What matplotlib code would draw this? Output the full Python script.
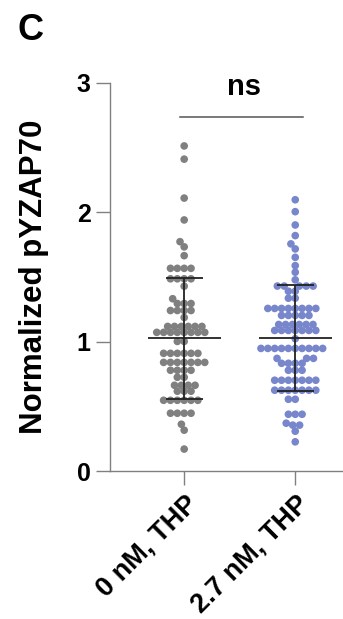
import matplotlib
matplotlib.use("Agg")
import matplotlib.pyplot as plt
import seaborn as sns
import pandas as pd

# values (one entry per dot)
groups = ["0 nM, THP", "2.7 nM, THP"]
zero_nm = ([2.513, 2.411, 2.110, 1.941, 1.773, 1.733, 1.665]
           + [1.567] * 4 + [1.486] * 4 + [1.429, 1.332] + [1.295] * 3
           + [1.241] * 4 + [1.187] + [1.118] * 6 + [1.072] * 8 + [1.002] * 2
           + [0.910] * 6 + [0.840] * 7 + [0.779] * 4 + [0.725] * 2
           + [0.663] * 4 + [0.617] * 3 + [0.547] * 6 + [0.447] * 4
           + [0.362, 0.316, 0.170])
thp_27 = ([2.097, 2.005, 1.902, 1.820, 1.756, 1.717, 1.652, 1.588, 1.537, 1.478]
          + [1.430] * 5 + [1.390] * 2 + [1.336] * 2 + [1.257] * 8
          + [1.203] * 5 + [1.133] * 6 + [1.087] * 7 + [1.023]
          + [0.948] * 10 + [0.871] * 3 + [0.833] * 4 + [0.779] * 3
          + [0.702] * 7 + [0.625] * 7 + [0.555] * 2 + [0.439] * 3
          + [0.370, 0.355, 0.355, 0.308, 0.226])
means = [1.025, 1.03]
sds = [0.465, 0.41]
colors = ["#808080", "#7886CC"]

df = pd.DataFrame({
    "group": [groups[0]] * len(zero_nm) + [groups[1]] * len(thp_27),
    "value": zero_nm + thp_27,
})

plt.rcParams["font.family"] = ["Liberation Sans", "DejaVu Sans"]
plt.rcParams["font.weight"] = "bold"

fig = plt.figure(figsize=(3.43, 6.19), dpi=100)
ax = fig.add_axes([0.321, 0.239, 0.679, 0.627])

# swarm laid out with slightly smaller dots, then drawn bigger (dots touch like Prism)
sns.swarmplot(data=df, x="group", y="value", hue="group", order=groups,
              palette=colors, size=4.7, linewidth=0, legend=False, ax=ax)
ax.set_xlim(-0.667, 1.43)
ax.set_ylim(0, 3)
fig.canvas.draw()
for coll in ax.collections:
    if "draw" in coll.__dict__:
        del coll.draw
    coll.set_sizes([5.5 ** 2])

# mean and SD
for i in range(2):
    ax.hlines(means[i], i - 0.33, i + 0.33, color="#222222", lw=1.3, zorder=5)
    ax.vlines(i, means[i] - sds[i], means[i] + sds[i], color="#222222", lw=1.3, zorder=5)
    ax.hlines([means[i] - sds[i], means[i] + sds[i]], i - 0.165, i + 0.165,
              color="#222222", lw=1.3, zorder=5)

# significance bar
ax.plot([-0.036, 1.07], [2.74, 2.74], color="#555555", lw=1.1, clip_on=False)
ax.text(0.54, 2.86, "ns", ha="center", va="bottom", fontsize=21, fontweight="bold")

ax.set_xlim(-0.667, 1.43)
ax.set_ylim(0, 3)
ax.set_yticks([0, 1, 2, 3])
ax.set_xlabel("")
ax.set_ylabel("Normalized pYZAP70", fontsize=22.5, fontweight="bold", labelpad=20)
for side in ["top", "right"]:
    ax.spines[side].set_visible(False)
for side in ["left", "bottom"]:
    ax.spines[side].set_color("#808080")
    ax.spines[side].set_linewidth(1)
ax.tick_params(axis="both", length=10, width=1, color="#808080", pad=4)
ax.tick_params(axis="y", labelsize=18)
ax.tick_params(axis="x", labelsize=19.5)
for lab in ax.get_yticklabels():
    lab.set_fontweight("bold")
plt.setp(ax.get_xticklabels(), rotation=45, ha="right", rotation_mode="anchor",
         fontweight="bold")

fig.text(0.05, 0.935, "C", fontsize=26, fontweight="bold")

fig.savefig("out.png", dpi=100)
